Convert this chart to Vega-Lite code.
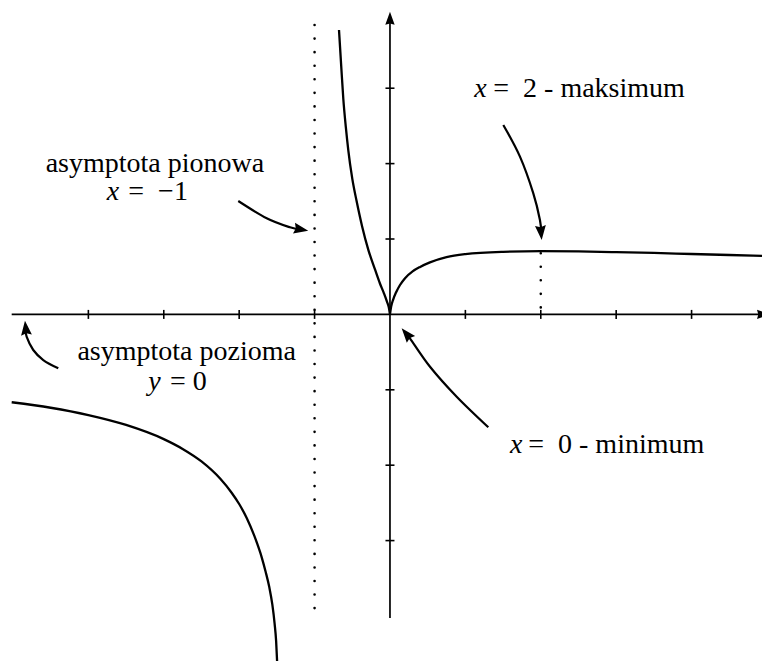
{
  "$schema": "https://vega.github.io/schema/vega-lite/v6.json",
  "width": 762,
  "height": 661,
  "autosize": {"type": "none"},
  "padding": 0,
  "background": "white",
  "config": {"view": {"stroke": null}},
  "datasets": {
    "axes": [
      {"x": -5.017, "y": 0, "x2": 4.93, "y2": 0},
      {"x": 0, "y": -4.027, "x2": 0, "y2": 3.9}
    ],
    "xticks": [
      {"x": -4, "y": 0}, {"x": -3, "y": 0}, {"x": -2, "y": 0}, {"x": -1, "y": 0},
      {"x": 1, "y": 0}, {"x": 2, "y": 0}, {"x": 3, "y": 0}, {"x": 4, "y": 0}
    ],
    "yticks": [
      {"x": 0, "y": 3}, {"x": 0, "y": 2}, {"x": 0, "y": 1},
      {"x": 0, "y": -1}, {"x": 0, "y": -2}, {"x": 0, "y": -3}
    ],
    "dots": [
      {"x": -1, "y": 3.838, "x2": -1, "y2": -3.95},
      {"x": 2, "y": 0.812, "x2": 2, "y2": 0}
    ],
    "curve": [
      {"b": "L", "x": -5.017, "y": -1.165},
      {"b": "L", "x": -4.5, "y": -1.238},
      {"b": "L", "x": -4.0, "y": -1.335},
      {"b": "L", "x": -3.5, "y": -1.466},
      {"b": "L", "x": -3.0, "y": -1.654},
      {"b": "L", "x": -2.75, "y": -1.784},
      {"b": "L", "x": -2.5, "y": -1.95},
      {"b": "L", "x": -2.25, "y": -2.18},
      {"b": "L", "x": -2.1, "y": -2.365},
      {"b": "L", "x": -2.0, "y": -2.515},
      {"b": "L", "x": -1.9, "y": -2.7},
      {"b": "L", "x": -1.8, "y": -2.935},
      {"b": "L", "x": -1.7, "y": -3.225},
      {"b": "L", "x": -1.65, "y": -3.41},
      {"b": "L", "x": -1.6, "y": -3.62},
      {"b": "L", "x": -1.56, "y": -3.85},
      {"b": "L", "x": -1.53, "y": -4.1},
      {"b": "L", "x": -1.51, "y": -4.33},
      {"b": "L", "x": -1.497, "y": -4.6},
      {"b": "M", "x": -0.676, "y": 3.772},
      {"b": "M", "x": -0.647, "y": 3.3},
      {"b": "M", "x": -0.619, "y": 2.86},
      {"b": "M", "x": -0.585, "y": 2.48},
      {"b": "M", "x": -0.553, "y": 2.18},
      {"b": "M", "x": -0.5, "y": 1.8},
      {"b": "M", "x": -0.442, "y": 1.5},
      {"b": "M", "x": -0.37, "y": 1.17},
      {"b": "M", "x": -0.288, "y": 0.86},
      {"b": "M", "x": -0.2, "y": 0.6},
      {"b": "M", "x": -0.133, "y": 0.41},
      {"b": "M", "x": -0.08, "y": 0.28},
      {"b": "M", "x": -0.04, "y": 0.17},
      {"b": "M", "x": -0.015, "y": 0.09},
      {"b": "M", "x": 0, "y": 0},
      {"b": "R", "x": 0, "y": 0},
      {"b": "R", "x": 0.015, "y": 0.1},
      {"b": "R", "x": 0.04, "y": 0.19},
      {"b": "R", "x": 0.08, "y": 0.29},
      {"b": "R", "x": 0.133, "y": 0.39},
      {"b": "R", "x": 0.2, "y": 0.48},
      {"b": "R", "x": 0.3, "y": 0.57},
      {"b": "R", "x": 0.4, "y": 0.63},
      {"b": "R", "x": 0.53, "y": 0.69},
      {"b": "R", "x": 0.75, "y": 0.76},
      {"b": "R", "x": 1.0, "y": 0.8},
      {"b": "R", "x": 1.5, "y": 0.83},
      {"b": "R", "x": 2.0, "y": 0.838},
      {"b": "R", "x": 2.5, "y": 0.835},
      {"b": "R", "x": 3.0, "y": 0.826},
      {"b": "R", "x": 3.5, "y": 0.815},
      {"b": "R", "x": 4.0, "y": 0.801},
      {"b": "R", "x": 4.5, "y": 0.788},
      {"b": "R", "x": 4.934, "y": 0.777}
    ],
    "arrows": [
      {"a": "A1", "i": 0, "x": -2.012, "y": 1.504},
      {"a": "A1", "i": 1, "x": -1.635, "y": 1.275},
      {"a": "A1", "i": 2, "x": -1.326, "y": 1.155},
      {"a": "A1", "i": 3, "x": -1.18, "y": 1.126},
      {"a": "A2", "i": 0, "x": 1.503, "y": 2.513},
      {"a": "A2", "i": 1, "x": 1.724, "y": 2.092},
      {"a": "A2", "i": 2, "x": 1.901, "y": 1.606},
      {"a": "A2", "i": 3, "x": 1.989, "y": 1.252},
      {"a": "A2", "i": 4, "x": 2.004, "y": 1.08},
      {"a": "A3", "i": 0, "x": -4.399, "y": -0.715},
      {"a": "A3", "i": 1, "x": -4.598, "y": -0.605},
      {"a": "A3", "i": 2, "x": -4.731, "y": -0.472},
      {"a": "A3", "i": 3, "x": -4.819, "y": -0.296},
      {"a": "A3", "i": 4, "x": -4.833, "y": -0.18},
      {"a": "A4", "i": 0, "x": 1.304, "y": -1.497},
      {"a": "A4", "i": 1, "x": 0.885, "y": -1.092},
      {"a": "A4", "i": 2, "x": 0.531, "y": -0.694},
      {"a": "A4", "i": 3, "x": 0.265, "y": -0.317},
      {"a": "A4", "i": 4, "x": 0.212, "y": -0.255}
    ],
    "heads": [
      {"a": "yax", "x": 0, "y": 4.015},
      {"a": "xax", "x": 5.04, "y": 0},
      {"a": "A1", "x": -1.084, "y": 1.11},
      {"a": "A2", "x": 2.012, "y": 0.987},
      {"a": "A3", "x": -4.841, "y": -0.084},
      {"a": "A4", "x": 0.155, "y": -0.184}
    ],
    "tcenter": [
      {"t": "asymptota pionowa", "x": -3.117, "y": 1.893},
      {"t": "asymptota pozioma", "x": -2.696, "y": -0.605}
    ],
    "tleft": [
      {"t": "= \u00a0\u22121", "x": -3.47, "y": 1.517},
      {"t": "= \u00a02 - maksimum", "x": 1.37, "y": 2.887},
      {"t": "= 0", "x": -2.918, "y": -1.003},
      {"t": "= \u00a00 - minimum", "x": 1.834, "y": -1.834}
    ],
    "tvar": [
      {"t": "x", "x": -3.757, "y": 1.517},
      {"t": "x", "x": 1.118, "y": 2.887},
      {"t": "y", "x": -3.206, "y": -1.003},
      {"t": "x", "x": 1.592, "y": -1.834}
    ]
  },
  "encoding": {
    "x": {"field": "x", "type": "quantitative", "scale": {"domain": [-5.172, 4.934], "nice": false, "zero": false}, "axis": null},
    "y": {"field": "y", "type": "quantitative", "scale": {"domain": [-4.597, 4.17], "nice": false, "zero": false}, "axis": null}
  },
  "layer": [
    {
      "data": {"name": "axes"},
      "mark": {"type": "rule", "color": "black", "strokeWidth": 1.7},
      "encoding": {"x2": {"field": "x2"}, "y2": {"field": "y2"}}
    },
    {
      "data": {"name": "xticks"},
      "mark": {"type": "tick", "orient": "vertical", "size": 9, "thickness": 1.6, "color": "black", "opacity": 1}
    },
    {
      "data": {"name": "yticks"},
      "mark": {"type": "tick", "orient": "horizontal", "size": 9, "thickness": 1.6, "color": "black", "opacity": 1}
    },
    {
      "data": {"name": "dots"},
      "mark": {"type": "rule", "color": "black", "strokeWidth": 2.6, "strokeDash": [0.01, 13.55], "strokeCap": "round"},
      "encoding": {"x2": {"field": "x2"}, "y2": {"field": "y2"}}
    },
    {
      "data": {"name": "curve"},
      "mark": {"type": "line", "color": "black", "strokeWidth": 2.3, "interpolate": "monotone"},
      "encoding": {"detail": {"field": "b", "type": "nominal"}}
    },
    {
      "data": {"name": "arrows"},
      "mark": {"type": "line", "color": "black", "strokeWidth": 2.2, "interpolate": "cardinal"},
      "encoding": {"detail": {"field": "a", "type": "nominal"}, "order": {"field": "i", "type": "quantitative"}}
    },
    {
      "data": {"name": "heads"},
      "transform": [{"filter": "datum.a === 'yax'"}],
      "mark": {"type": "point", "shape": "M0,0L0.72,2L0,1.8L-0.72,2Z", "size": 169, "filled": true, "opacity": 1, "color": "black", "strokeWidth": 0, "angle": 0}
    },
    {
      "data": {"name": "heads"},
      "transform": [{"filter": "datum.a === 'xax'"}],
      "mark": {"type": "point", "shape": "M0,0L0.72,2L0,1.8L-0.72,2Z", "size": 169, "filled": true, "opacity": 1, "color": "black", "strokeWidth": 0, "angle": 90}
    },
    {
      "data": {"name": "heads"},
      "transform": [{"filter": "datum.a === 'A1'"}],
      "mark": {"type": "point", "shape": "M0,0L0.75,2L0,1.75L-0.75,2Z", "size": 210, "filled": true, "opacity": 1, "color": "black", "strokeWidth": 0, "angle": 100.5}
    },
    {
      "data": {"name": "heads"},
      "transform": [{"filter": "datum.a === 'A2'"}],
      "mark": {"type": "point", "shape": "M0,0L0.75,2L0,1.75L-0.75,2Z", "size": 210, "filled": true, "opacity": 1, "color": "black", "strokeWidth": 0, "angle": 175}
    },
    {
      "data": {"name": "heads"},
      "transform": [{"filter": "datum.a === 'A3'"}],
      "mark": {"type": "point", "shape": "M0,0L0.75,2L0,1.75L-0.75,2Z", "size": 210, "filled": true, "opacity": 1, "color": "black", "strokeWidth": 0, "angle": 354}
    },
    {
      "data": {"name": "heads"},
      "transform": [{"filter": "datum.a === 'A4'"}],
      "mark": {"type": "point", "shape": "M0,0L0.75,2L0,1.75L-0.75,2Z", "size": 210, "filled": true, "opacity": 1, "color": "black", "strokeWidth": 0, "angle": 320}
    },
    {
      "data": {"name": "tcenter"},
      "mark": {"type": "text", "align": "center", "baseline": "alphabetic", "font": "Liberation Serif, DejaVu Serif, serif", "fontSize": 28, "color": "black"},
      "encoding": {"text": {"field": "t", "type": "nominal"}}
    },
    {
      "data": {"name": "tleft"},
      "mark": {"type": "text", "align": "left", "baseline": "alphabetic", "font": "Liberation Serif, DejaVu Serif, serif", "fontSize": 28, "color": "black"},
      "encoding": {"text": {"field": "t", "type": "nominal"}}
    },
    {
      "data": {"name": "tvar"},
      "mark": {"type": "text", "align": "left", "baseline": "alphabetic", "font": "Liberation Serif, DejaVu Serif, serif", "fontStyle": "italic", "fontSize": 28, "color": "black"},
      "encoding": {"text": {"field": "t", "type": "nominal"}}
    }
  ]
}
